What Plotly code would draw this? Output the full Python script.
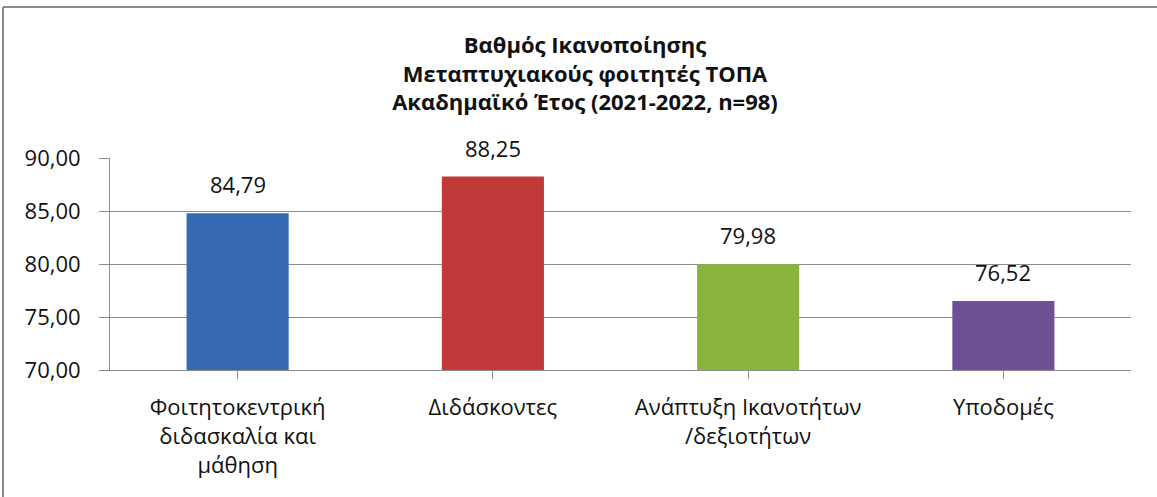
import plotly.graph_objects as go

categories = ["Φοιτητοκεντρική<br>διδασκαλία και<br>μάθηση", "Διδάσκοντες",
              "Ανάπτυξη Ικανοτήτων<br>/δεξιοτήτων", "Υποδομές"]
values = [84.79, 88.25, 79.98, 76.52]
value_labels = ["84,79", "88,25", "79,98", "76,52"]
bar_colors = ["#3569B2", "#BF3A38", "#88B33F", "#6F5097"]
y_ticks = [70, 75, 80, 85, 90]
y_tick_labels = ["70,00", "75,00", "80,00", "85,00", "90,00"]
title_lines = ["Βαθμός Ικανοποίησης", "Μεταπτυχιακούς φοιτητές ΤΟΠΑ",
               "Ακαδημαϊκό Έτος (2021-2022, n=98)"]

FONT = "Open Sans"
GRID = "#8C8C8C"

fig = go.Figure()
fig.add_trace(go.Bar(
    x=list(range(len(values))),
    y=values,
    base=0,
    width=0.4,
    marker=dict(color=bar_colors, line=dict(width=0)),
    hoverinfo="skip",
))

for i, (v, lab) in enumerate(zip(values, value_labels)):
    fig.add_annotation(x=i, y=v, text=lab, showarrow=False, yanchor="bottom",
                       yshift=12, font=dict(family=FONT, size=22, color="#111"))

fig.update_layout(
    width=1157, height=497,
    margin=dict(l=110, r=26, t=158, b=127),
    paper_bgcolor="white", plot_bgcolor="white",
    showlegend=False,
    title=dict(text="<br>".join(title_lines), x=585 / 1157, xanchor="center",
               xref="container", y=1 - 53 / 497, yanchor="top", yref="container",
               font=dict(family=FONT, size=22, color="#111", weight="bold")),
    xaxis=dict(
        range=[-0.5, 3.5],
        tickmode="array", tickvals=list(range(len(values))), ticktext=categories,
        tickson="boundaries", ticks="outside", ticklen=8, tickcolor=GRID, tickwidth=1,
        showline=True, linecolor=GRID, linewidth=1, showgrid=False,
        tickfont=dict(family=FONT, size=22, color="#111"),
        ticklabelstandoff=10,
    ),
    yaxis=dict(
        range=[70, 90],
        tickmode="array", tickvals=y_ticks, ticktext=y_tick_labels,
        ticks="outside", ticklen=10, tickcolor=GRID, tickwidth=1,
        showline=True, linecolor=GRID, linewidth=1,
        showgrid=True, gridcolor=GRID, gridwidth=1, zeroline=False,
        tickfont=dict(family=FONT, size=22, color="#111"),
        ticklabelstandoff=14,
    ),
)

# outer chart frame: only the left and top edges are visible in the reference
frame = dict(color="#8A8A8A", width=2)
fig.add_shape(type="line", xref="paper", yref="paper",
              x0=(3 - 110) / 1021, x1=(3 - 110) / 1021,
              y0=(370 - 497) / 212, y1=(370 - 7) / 212, line=frame)
fig.add_shape(type="line", xref="paper", yref="paper",
              x0=(3 - 110) / 1021, x1=(1157 - 110) / 1021,
              y0=(370 - 7) / 212, y1=(370 - 7) / 212, line=frame)

fig.write_html(
    "out.html", config={"displayModeBar": False},
    post_script=("document.body.style.margin='0';document.body.style.overflow='hidden';"
                 "document.documentElement.style.overflow='hidden';"))
